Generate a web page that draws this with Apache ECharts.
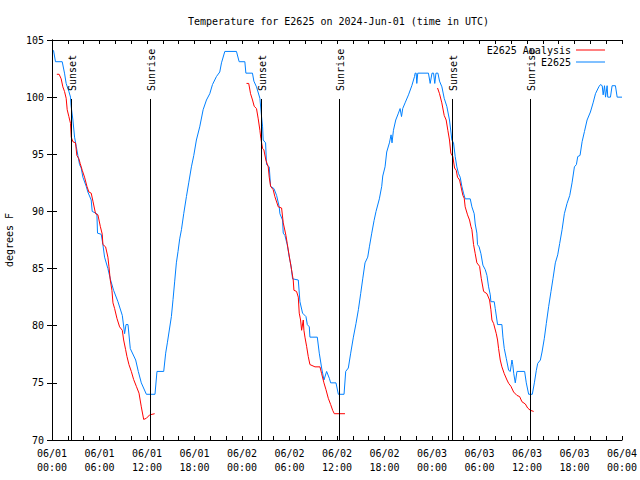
<!DOCTYPE html>
<html>
<head>
<meta charset="utf-8">
<script src="https://cdn.jsdelivr.net/npm/echarts@6/dist/echarts.min.js"></script>
<style>html,body{margin:0;padding:0;background:#fff;}#c{width:640px;height:480px;}</style>
</head>
<body>
<div id="c"></div>
<script>
// time in hours since 06/01 00:00 UTC, temperature in degrees F
const xTickDays = ['06/01', '06/02', '06/03', '06/04'];
const sunHours = [2.34, 12.34, 26.42, 36.25, 50.47, 60.34];
const sunLabels = ['Sunset', 'Sunrise', 'Sunset', 'Sunrise', 'Sunset', 'Sunrise'];

const observed = [
[0.19,104.1],[0.44,103.1],[1.29,103.1],[1.58,102.1],[1.79,101.2],[2.13,100.5],[2.34,100.0],[2.4,99.3],[2.64,98.0],[2.85,96.5],[3.06,95.7],[3.27,94.9],[3.48,94.1],[3.69,93.8],[3.90,93.0],[4.32,92.2],[4.53,91.7],[4.95,91.0],[5.08,90.0],[5.67,89.8],[5.75,88.1],[6.22,88.0],[6.43,87.1],[6.64,86.0],[7.06,85.0],[7.40,84.0],[7.78,83.1],[8.33,82.1],[8.88,80.9],[9.17,79.3],[9.35,80.1],[9.60,80.1],[9.89,78.0],[10.57,77.0],[10.90,76.0],[11.28,75.0],[11.92,74.0],[13.01,74.0],[13.26,76.0],[14.11,76.0],[14.36,77.6],[14.57,78.5],[15.08,80.8],[15.29,82.3],[15.50,83.9],[15.71,85.5],[15.92,86.5],[16.13,87.6],[16.35,88.4],[16.64,89.8],[16.98,91.3],[17.27,92.5],[17.61,93.9],[17.91,94.9],[18.24,96.25],[18.66,97.4],[19.09,98.9],[19.51,99.75],[19.93,100.3],[20.27,101.1],[20.77,101.8],[21.19,102.2],[21.41,103.0],[21.83,104.0],[23.3,104.0],[23.64,103.1],[24.36,103.1],[24.49,102.1],[25.32,102.1],[25.50,101.4],[25.83,100.9],[26.26,99.9],[26.47,98.3],[26.60,97.4],[26.68,96.25],[26.98,96.0],[27.10,94.1],[27.44,93.9],[27.61,92.2],[28.03,92.0],[28.37,91.4],[28.70,90.4],[28.79,89.8],[29.12,89.25],[29.21,88.1],[29.42,87.9],[29.71,87.1],[29.97,86.0],[30.18,85.3],[30.39,84.1],[31.11,84.0],[31.32,82.1],[31.65,81.1],[32.08,80.8],[32.25,80.1],[32.5,79.9],[32.58,79.0],[33.51,79.0],[33.76,77.6],[34.06,76.3],[34.35,75.25],[34.69,76.0],[35.03,75.4],[35.2,75.0],[35.87,75.0],[36.17,74.0],[36.89,74.0],[37.1,76.0],[37.43,76.3],[37.73,77.6],[38.07,79.0],[38.4,80.2],[38.7,81.4],[38.99,82.8],[39.25,84.1],[39.54,85.5],[39.88,86.0],[40.09,86.9],[40.39,88.1],[40.68,89.2],[40.93,90.0],[41.35,91.1],[41.65,92.2],[41.78,93.1],[42.07,93.9],[42.28,95.2],[42.62,96.0],[42.83,96.7],[42.95,96.0],[43.13,97.1],[43.42,98.0],[43.76,98.6],[43.97,99.0],[44.15,98.3],[44.3,99.0],[44.6,99.5],[45.03,100.2],[45.45,101.0],[45.79,101.8],[45.87,102.1],[46.0,102.1],[46.08,101.2],[46.2,102.1],[47.55,102.1],[47.77,101.2],[48.0,102.1],[48.2,102.1],[48.35,101.2],[48.5,102.1],[48.75,102.1],[48.95,101.4],[49.25,100.9],[49.54,99.9],[49.87,99.2],[50.21,98.0],[50.51,96.25],[50.72,96.0],[50.93,94.8],[51.14,93.9],[51.35,93.3],[51.56,93.0],[51.77,92.2],[51.98,91.6],[52.19,91.1],[52.83,91.1],[53.04,90.4],[53.33,89.8],[53.46,88.9],[53.67,88.1],[53.75,87.1],[53.95,86.9],[54.18,86.3],[54.43,85.3],[54.73,84.9],[54.94,84.4],[55.15,83.4],[55.36,82.7],[55.44,82.1],[55.86,82.1],[55.99,81.5],[56.28,80.1],[56.83,80.1],[56.96,79.0],[57.13,78.0],[57.38,77.15],[57.68,76.1],[57.89,76.0],[58.1,77.0],[58.2,76.6],[58.33,75.8],[58.52,75.0],[58.73,76.0],[59.7,76.0],[59.91,75.0],[60.21,74.0],[60.67,74.0],[60.93,75.0],[61.18,76.1],[61.35,76.7],[61.69,77.0],[61.9,77.7],[62.19,78.9],[62.44,80.2],[62.74,81.7],[63.03,83.0],[63.29,84.15],[63.58,85.5],[63.88,86.2],[64.13,87.2],[64.43,88.4],[64.72,89.8],[65.06,90.7],[65.4,91.4],[65.69,92.5],[65.99,93.9],[66.24,94.1],[66.41,94.8],[66.7,94.9],[66.96,96.1],[67.26,97.0],[67.59,98.0],[68.01,98.7],[68.35,99.5],[68.65,100.3],[69.07,100.9],[69.28,101.1],[69.5,101.0],[69.62,100.2],[69.79,101.0],[69.92,100.0],[70.12,101.0],[70.2,100.0],[70.54,100.0],[70.75,101.0],[71.17,101.0],[71.39,100.0],[72.0,100.0]
];

const analysisNight1 = [
[0.61,102.0],[0.9,102.0],[1.16,101.6],[1.37,100.9],[1.58,100.5],[1.79,99.9],[1.92,98.9],[2.13,98.3],[2.34,97.7],[2.43,96.5],[2.64,96.1],[2.97,96.0],[3.14,94.9],[3.40,94.6],[3.56,94.2],[3.82,93.6],[4.11,93.0],[4.41,92.2],[4.66,91.7],[4.95,91.6],[5.17,90.9],[5.50,89.8],[5.80,89.7],[6.10,88.7],[6.35,88.0],[6.43,87.1],[6.77,86.9],[7.06,86.0],[7.19,85.2],[7.36,84.0],[7.57,83.1],[7.70,82.0],[7.91,81.5],[8.20,80.65],[8.54,79.9],[8.88,79.6],[9.05,78.75],[9.30,77.9],[9.47,77.3],[9.72,76.6],[10.02,76.0],[10.31,75.3],[10.65,74.7],[10.99,74.1],[11.28,72.9],[11.58,71.8],[11.92,71.9],[12.34,72.2],[12.97,72.3]
];
const analysisNight2 = [
[24.57,101.2],[24.85,101.2],[25.08,100.3],[25.33,99.75],[25.54,99.2],[25.83,99.0],[26.05,98.1],[26.26,97.1],[26.38,96.4],[26.60,95.5],[26.76,95.4],[27.01,94.5],[27.31,93.9],[27.44,93.0],[27.61,92.2],[27.94,91.9],[28.15,91.3],[28.58,90.4],[29.0,90.3],[29.21,89.0],[29.55,87.9],[29.71,87.2],[30.05,85.75],[30.26,84.9],[30.47,84.0],[30.56,83.1],[30.89,83.0],[31.11,82.5],[31.23,81.1],[31.40,80.5],[31.53,79.6],[31.74,80.5],[31.82,79.6],[31.95,79.0],[32.16,78.2],[32.37,77.3],[32.58,76.6],[33.22,76.4],[33.85,76.4],[34.06,75.8],[34.35,75.0],[34.61,74.4],[34.9,73.65],[35.2,73.1],[35.45,72.6],[35.66,72.3],[37.01,72.3]
];
const analysisNight3 = [
[48.7,100.8],[48.95,100.3],[49.24,99.5],[49.54,98.4],[49.79,98.0],[50.0,97.1],[50.21,96.25],[50.38,95.1],[50.63,94.8],[50.85,93.8],[51.06,93.6],[51.22,93.0],[51.48,92.75],[51.65,92.2],[51.9,91.4],[52.07,91.15],[52.19,90.4],[52.49,89.7],[52.74,89.25],[52.91,88.7],[53.04,88.4],[53.25,87.1],[53.46,86.3],[53.67,85.5],[54.01,85.2],[54.22,84.15],[54.52,83.0],[54.94,82.8],[55.27,82.25],[55.44,81.4],[55.57,80.5],[55.78,80.2],[56.12,79.3],[56.28,78.75],[56.41,78.0],[56.62,77.0],[56.83,76.4],[57.13,75.8],[57.47,75.25],[57.68,74.96],[57.97,74.7],[58.31,74.2],[58.73,73.9],[59.07,73.8],[59.36,73.35],[59.79,73.15],[60.08,72.8],[60.42,72.6],[60.84,72.5]
];

const FONT = 'DejaVu Sans Mono';
const analysis = [].concat(analysisNight1, [[18, null]], analysisNight2, [[42, null]], analysisNight3);

function xLabel(v) {
  const d = Math.floor(v / 24);
  const h = v - d * 24;
  return xTickDays[d] + '\n' + (h < 10 ? '0' : '') + h + ':00';
}

const axisCommon = {
  axisLine: { show: true, lineStyle: { color: '#000', width: 1 } },
  axisTick: { show: true, inside: true, length: 4, lineStyle: { color: '#000' } },
  splitLine: { show: false }
};

const chart = echarts.init(document.getElementById('c'), null, { renderer: 'svg' });
chart.setOption({
  animation: false,
  backgroundColor: '#fff',
  textStyle: { fontFamily: FONT },
  title: {
    text: 'Temperature for E2625 on 2024-Jun-01 (time in UTC)',
    left: 183, top: 11,
    textStyle: { fontFamily: FONT, fontSize: 10, fontWeight: 'normal', color: '#000' }
  },
  legend: {
    data: ['E2625 Analysis', 'E2625'],
    orient: 'vertical', right: 30, top: 39, align: 'right',
    icon: 'rect', itemWidth: 29, itemHeight: 1, itemGap: 0,
    textStyle: { fontFamily: FONT, fontSize: 10, color: '#000', lineHeight: 12 }
  },
  grid: { left: 52, right: 18, top: 40, bottom: 40, outerBoundsMode: 'none', containLabel: false },
  xAxis: [
    Object.assign({}, axisCommon, {
      type: 'value', min: 0, max: 72, interval: 6, position: 'bottom',
      minorTick: { show: true, splitNumber: 3, length: 4, lineStyle: { color: '#000' } },
      axisLabel: { formatter: xLabel, color: '#000', fontFamily: FONT, fontSize: 10, lineHeight: 14, margin: 6 }
    }),
    Object.assign({}, axisCommon, {
      type: 'value', min: 0, max: 72, interval: 6, position: 'top',
      minorTick: { show: true, splitNumber: 3, length: 4, lineStyle: { color: '#000' } },
      axisLabel: { show: false }
    })
  ],
  yAxis: [
    Object.assign({}, axisCommon, {
      type: 'value', min: 70, max: 105, interval: 5, position: 'left',
      axisTick: { show: true, inside: true, length: 5, lineStyle: { color: '#000' } },
      name: 'degrees F', nameLocation: 'middle', nameGap: 38, nameRotate: 90,
      nameTextStyle: { fontFamily: FONT, fontSize: 10, color: '#000' },
      axisLabel: { color: '#000', fontFamily: FONT, fontSize: 10, margin: 8 }
    }),
    Object.assign({}, axisCommon, {
      type: 'value', min: 70, max: 105, interval: 5, position: 'right',
      axisTick: { show: true, inside: true, length: 5, lineStyle: { color: '#000' } },
      axisLabel: { show: false }
    })
  ],
  series: [
    {
      name: 'E2625 Analysis', type: 'line', data: analysis, symbol: 'none',
      connectNulls: false, color: '#ff0000',
      lineStyle: { color: '#ff0000', width: 1 }, z: 3
    },
    {
      name: 'E2625', type: 'line', data: observed, symbol: 'none',
      color: '#0080ff',
      lineStyle: { color: '#0080ff', width: 1 }, z: 2
    },
    {
      name: 'sun', type: 'custom',
      data: sunHours.map(function (h) { return [h, 70]; }),
      renderItem: function (params, api) {
        const h = api.value(0);
        const bottom = api.coord([h, 70]);
        const top = api.coord([h, 99.84]);
        const textPos = api.coord([h, 100.54]);
        const lx = Math.round(bottom[0]) + 0.5;
        return {
          type: 'group',
          children: [
            { type: 'line', shape: { x1: lx, y1: bottom[1], x2: lx, y2: top[1] },
              style: { stroke: '#000', lineWidth: 1 } },
            { type: 'text', x: lx + 1, y: textPos[1], rotation: Math.PI / 2,
              style: { text: sunLabels[params.dataIndex], fill: '#000',
                font: '10px "' + FONT + '"', align: 'left', verticalAlign: 'middle' } }
          ]
        };
      },
      z: 4
    }
  ]
});
</script>
</body>
</html>
